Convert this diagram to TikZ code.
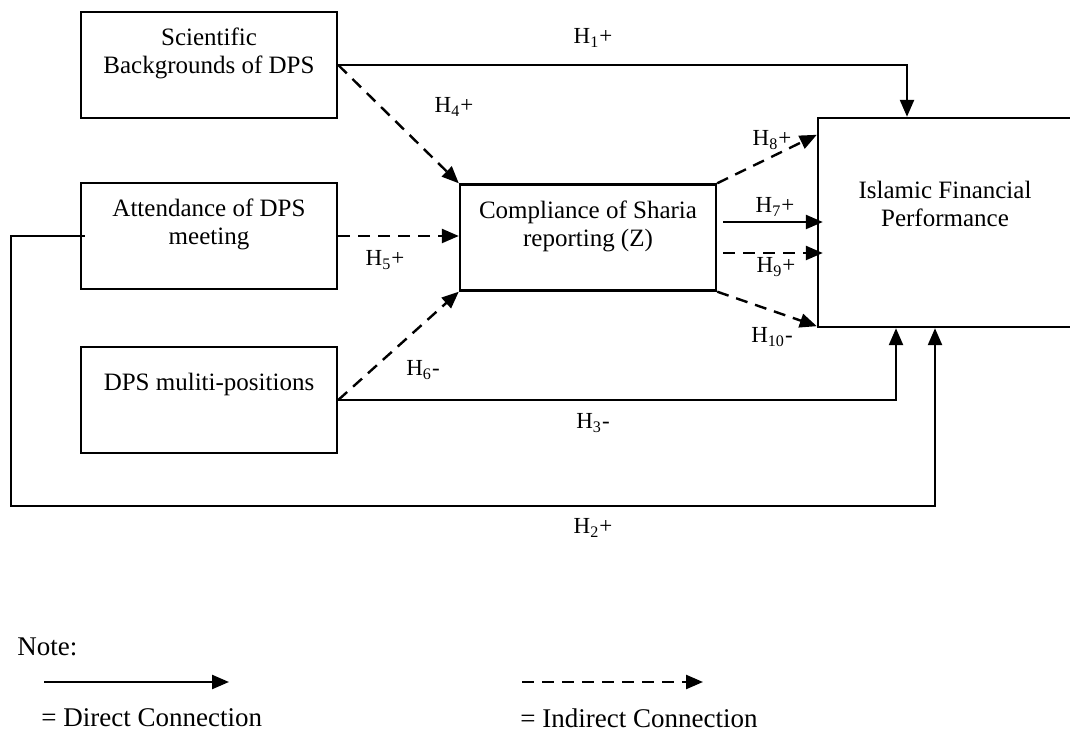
\documentclass[tikz,border=0pt]{standalone}
\usepackage{fontspec}
\setmainfont{Liberation Serif}
\usepackage{tikz}
\usetikzlibrary{arrows.meta}

\begin{document}
\begin{tikzpicture}[x=0.5pt,y=-0.5pt,
    boite/.style={draw, line width=1.2pt, minimum width=128pt, minimum height=53pt, inner sep=0pt, align=center, font=\fontsize{12.5}{14}\selectfont},
    fleche/.style={line width=1.2pt, -{Triangle[length=8.5pt,width=7pt]}},
    indirecte/.style={fleche, dash pattern=on 6pt off 4pt},
    hyp/.style={inner sep=0pt, font=\fontsize{11.5}{13}\selectfont},
    note/.style={inner sep=0pt, anchor=west, font=\fontsize{13.5}{15}\selectfont}]
    \useasboundingbox (0,0) rectangle (1070,731);
    % boîtes
    \node[boite] (sb) at (209,65) {Scientific\\Backgrounds of DPS\\~};
    \node[boite] (at) at (209,236) {Attendance of DPS\\meeting\\~};
    \node[boite] (dm) at (209,400) {DPS muliti-positions\\[4pt]~};
    \node[boite] (cs) at (588,237.5) {Compliance of Sharia\\reporting (Z)\\~};
    \node[boite, minimum width=127pt, minimum height=104.5pt] (ifp) at (945,222.5) {Islamic Financial\\Performance\\[5pt]~};
    \coordinate (coin) at (11,506);
    % flèches directes
    \draw[fleche] (sb.east) -| ([xshift=-19pt]ifp.north);
    \draw[fleche] (dm.east) -| ([xshift=-24.5pt]ifp.south);
    \draw[fleche] ([xshift=2.5pt]at.west) -| (coin) -| ([xshift=-5pt]ifp.south);
    \draw[fleche] ([xshift=3pt,yshift=7.75pt]cs.east) -- ([xshift=3pt,yshift=7.75pt]cs.east -| ifp.west);
    % flèches indirectes
    \draw[indirecte] (sb.east) -- (cs.north west);
    \draw[indirecte] (at.east) -- (at.east -| cs.west);
    \draw[indirecte] (dm.east) -- (cs.south west);
    \draw[indirecte] (cs.north east) -- ([yshift=-9pt]ifp.north west);
    \draw[indirecte] ([xshift=3pt,yshift=-7.75pt]cs.east) -- ([xshift=3pt,yshift=-7.75pt]cs.east -| ifp.west);
    \draw[indirecte] (cs.south east) -- ([yshift=1pt]ifp.south west);
    % hypothèses
    \node[hyp] (h1) at (593,38) {H\textsubscript{1}+};
    \node[hyp] (h2) at (593,528) {H\textsubscript{2}+};
    \node[hyp] (h3) at (593,423) {H\textsubscript{3}-};
    \node[hyp] (h4) at (454,107) {H\textsubscript{4}+};
    \node[hyp] (h5) at (385,260) {H\textsubscript{5}+};
    \node[hyp] (h6) at (423,370) {H\textsubscript{6}-};
    \node[hyp] (h7) at (775,207) {H\textsubscript{7}+};
    \node[hyp] (h8) at (772,140) {H\textsubscript{8}+};
    \node[hyp] (h9) at (776,267) {H\textsubscript{9}+};
    \node[hyp] (h10) at (772,337) {H\textsubscript{10}-};
    % légende
    \node[note] (nt) at (17,647) {Note:};
    \coordinate (d1) at (44,682);
    \coordinate (d2) at (229,682);
    \coordinate (i1) at (522,682);
    \coordinate (i2) at (703,682);
    \draw[fleche] (d1) -- (d2);
    \draw[indirecte] (i1) -- (i2);
    \node[note] (dc) at (41,718) {= Direct Connection};
    \node[note] (ic) at (520,718) {= Indirect Connection};
\end{tikzpicture}
\end{document}
